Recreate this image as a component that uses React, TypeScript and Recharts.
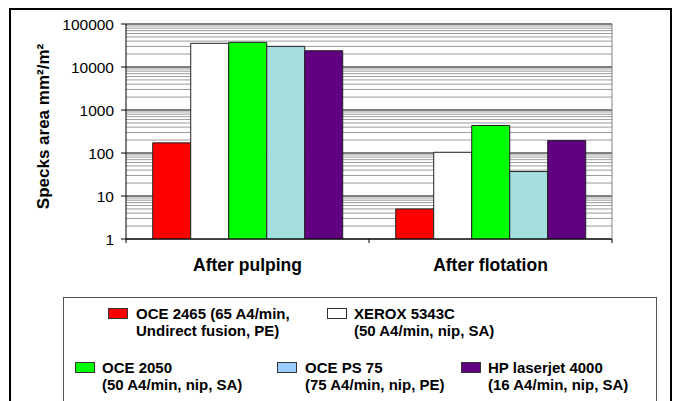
import { BarChart, Bar, XAxis, YAxis, CartesianGrid, Label } from 'recharts';

const categories = ['After pulping', 'After flotation'];
const oce2465 = [172, 5];
const xerox5343c = [35500, 104];
const oce2050 = [37400, 436];
const ocePs75 = [30200, 37];
const hpLaserjet4000 = [23900, 195];

const majorTicks = [1, 10, 100, 1000, 10000, 100000];
const minorSteps = [2, 3, 4, 5, 6, 7, 8, 9];

const seriesKeys = ['oce2465', 'xerox5343c', 'oce2050', 'ocePs75', 'hpLaserjet4000'];
const seriesValues = [oce2465, xerox5343c, oce2050, ocePs75, hpLaserjet4000];
const seriesLabels = [
  ['OCE 2465 (65 A4/min,', 'Undirect fusion, PE)'],
  ['XEROX 5343C', '(50 A4/min, nip, SA)'],
  ['OCE 2050', '(50 A4/min, nip, SA)'],
  ['OCE PS 75', '(75 A4/min, nip, PE)'],
  ['HP laserjet 4000', '(16 A4/min, nip, SA)'],
];
const barColors = ['#ff0000', '#ffffff', '#00ff00', '#a4dede', '#600080'];
const legendColors = ['#ff0000', '#ffffff', '#00ff00', '#99ccff', '#600080'];

// legend slot positions (page px): swatch x, text x, row baseline
const legendSlots = [
  { sx: 108, tx: 136, base: 319 },
  { sx: 327, tx: 354, base: 319 },
  { sx: 75, tx: 102, base: 373 },
  { sx: 277, tx: 305, base: 373 },
  { sx: 461, tx: 488, base: 373 },
];

const data = categories.map((name, i) => {
  const row: Record<string, string | number> = { name };
  seriesKeys.forEach((k, s) => {
    row[k] = seriesValues[s][i];
  });
  return row;
});

const topTick = majorTicks[majorTicks.length - 1];
const yTicks = majorTicks.flatMap((m) => (m === topTick ? [m] : [m, ...minorSteps.map((s) => s * m)]));

const FONT = '"Liberation Sans", Arial, sans-serif';
const W = 675;
const H = 401;
const PLOT_LEFT = 126;
const PLOT_RIGHT = 612;

function YTick({ x, y, payload }: any) {
  if (!majorTicks.includes(payload.value)) return <g />;
  return (
    <g>
      <line x1={x + 7} x2={x + 12} y1={y} y2={y} stroke="#000" />
      <text x={x} y={y} dy="0.36em" textAnchor="end" fontSize={15.5} fontFamily={FONT} fill="#000">
        {payload.value}
      </text>
    </g>
  );
}

function XTick({ x, y, payload, index }: any) {
  const half = payload.offset || (PLOT_RIGHT - PLOT_LEFT) / categories.length / 2;
  return (
    <g>
      {index === 0 && <line x1={x - half} x2={x - half} y1={y} y2={y + 4} stroke="#000" />}
      <line x1={x + half} x2={x + half} y1={y} y2={y + 4} stroke="#000" />
      <text x={x} y={y + 31.7} textAnchor="middle" fontSize={17.5} fontWeight="bold" fontFamily={FONT} fill="#000">
        {payload.value}
      </text>
    </g>
  );
}

function YLabel({ viewBox }: any) {
  const cx = viewBox.x + 49;
  const cy = viewBox.y + viewBox.height / 2 - 5;
  return (
    <text
      x={cx}
      y={cy}
      transform={`rotate(-90 ${cx} ${cy})`}
      textAnchor="middle"
      fontSize={17}
      fontWeight="bold"
      fontFamily={FONT}
      fill="#000"
    >
      Specks area mm²/m²
    </text>
  );
}

function gridLine(p: any) {
  const v = yTicks[p.index];
  const major = v === undefined || majorTicks.includes(v);
  return (
    <line
      key={p.key}
      x1={p.x1}
      x2={p.x2}
      y1={p.y1}
      y2={p.y2}
      stroke={major ? '#000' : '#9c9c9c'}
      strokeWidth={1}
    />
  );
}

export default function App() {
  return (
    <div
      style={{
        position: 'absolute',
        left: 0,
        top: 0,
        width: W,
        height: H,
        overflow: 'hidden',
        background: '#fff',
        fontFamily: FONT,
      }}
    >
      <div
        style={{
          position: 'absolute',
          left: 9,
          top: 8,
          width: 663,
          height: 500,
          border: '2px solid #000',
          boxSizing: 'border-box',
        }}
      />
      <div style={{ position: 'absolute', left: 0, top: 0 }}>
        <BarChart
          width={W}
          height={H}
          data={data}
          margin={{ top: 24, right: 62, left: 0, bottom: 132 }}
          barCategoryGap="11%"
          barGap={0}
        >
          <CartesianGrid vertical={false} horizontal={gridLine} />
          <XAxis
            dataKey="name"
            height={30}
            axisLine={{ stroke: '#000' }}
            tickLine={false}
            tickSize={0}
            tickMargin={0}
            tick={<XTick />}
            interval={0}
          />
          <YAxis
            scale="log"
            domain={[1, 100000]}
            allowDataOverflow
            ticks={yTicks}
            interval={0}
            width={PLOT_LEFT}
            axisLine={{ stroke: '#000' }}
            tickLine={false}
            tickSize={5}
            tickMargin={7}
            tick={<YTick />}
          >
            <Label content={<YLabel />} />
          </YAxis>
          <YAxis
            yAxisId="right"
            orientation="right"
            width={1}
            tick={false}
            tickLine={false}
            axisLine={{ stroke: '#808080' }}
          />
          {seriesKeys.map((k, s) => (
            <Bar
              key={k}
              dataKey={k}
              name={seriesLabels[s].join(' ')}
              fill={barColors[s]}
              stroke="#222"
              strokeWidth={1}
              isAnimationActive={false}
            />
          ))}
        </BarChart>
      </div>
      <div
        style={{
          position: 'absolute',
          left: 63,
          top: 297,
          width: 594,
          height: 200,
          border: '1px solid #555',
          boxSizing: 'border-box',
        }}
      />
      {legendSlots.map((slot, s) => (
        <div key={seriesKeys[s]}>
          <div
            style={{
              position: 'absolute',
              left: slot.sx,
              top: slot.base - 11,
              width: 20,
              height: 11,
              background: legendColors[s],
              border: '1px solid #333',
              boxSizing: 'border-box',
            }}
          />
          <div
            style={{
              position: 'absolute',
              left: slot.tx,
              top: slot.base - 13.7,
              fontSize: 15,
              fontWeight: 'bold',
              lineHeight: '17px',
              whiteSpace: 'nowrap',
              color: '#000',
            }}
          >
            <div>{seriesLabels[s][0]}</div>
            <div>{seriesLabels[s][1]}</div>
          </div>
        </div>
      ))}
    </div>
  );
}
